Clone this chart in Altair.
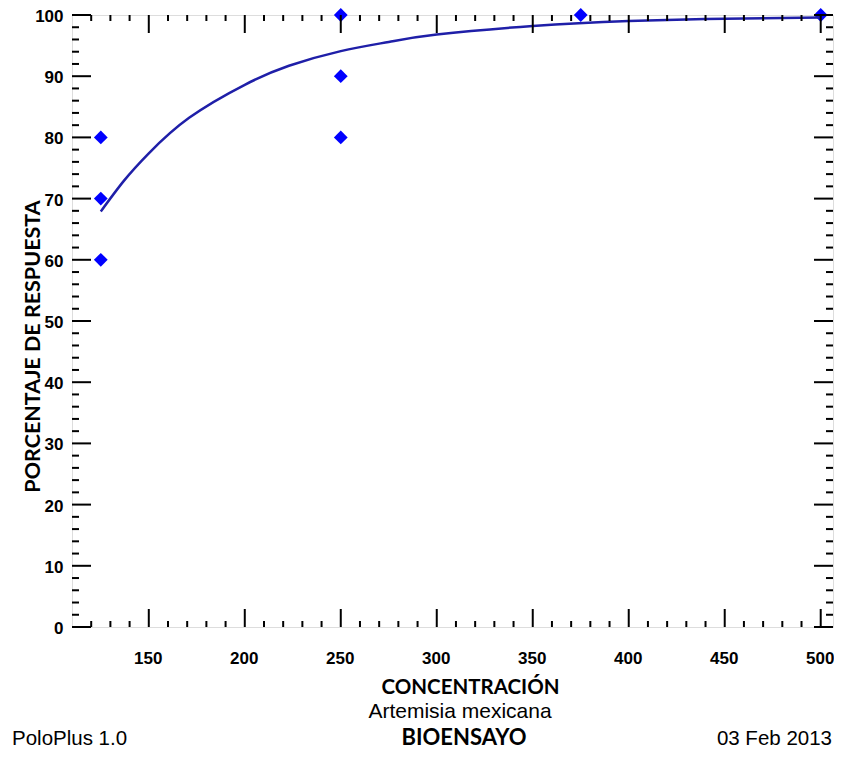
import altair as alt
import pandas as pd

# observed responses
obs_conc = [125, 125, 125, 250, 250, 250, 375, 500]
obs_resp = [60, 70, 80, 80, 90, 100, 100, 100]

# fitted curve
fit_conc = [125, 137, 150, 171, 200, 223, 250, 275, 300, 350, 400, 450, 500]
fit_resp = [67.9, 72.9, 77.4, 83.2, 88.6, 91.7, 94.1, 95.6, 96.8, 98.2, 99.0, 99.4, 99.6]

x_major = [150, 200, 250, 300, 350, 400, 450, 500]
x_minor = [120, 130, 140, 160, 170, 180, 190, 210, 220, 230, 240, 260, 270, 280, 290,
           310, 320, 330, 340, 360, 370, 380, 390, 410, 420, 430, 440, 460, 470, 480, 490]
y_major = [0, 10, 20, 30, 40, 50, 60, 70, 80, 90, 100]
y_minor = [2, 4, 6, 8, 12, 14, 16, 18, 22, 24, 26, 28, 32, 34, 36, 38, 42, 44, 46, 48,
           52, 54, 56, 58, 62, 64, 66, 68, 72, 74, 76, 78, 82, 84, 86, 88, 92, 94, 96, 98]

W, H = 761, 612
XDOM = [110, 506.4]
YDOM = [0, 100]
xs = alt.Scale(domain=XDOM, nice=False, zero=False)
ys = alt.Scale(domain=YDOM, nice=False, zero=False)

obs = pd.DataFrame({"c": obs_conc, "r": obs_resp})
fit = pd.DataFrame({"c": fit_conc, "r": fit_resp})
xmaj = pd.DataFrame({"c": x_major})
xmin = pd.DataFrame({"c": x_minor})
ymaj = pd.DataFrame({"r": y_major})
ymin = pd.DataFrame({"r": y_minor})

LBL_FONT = "Liberation Sans"
TTL_FONT = "Lato"

x_axis = alt.Axis(
    values=x_major, ticks=False, tickSize=0, domain=False, grid=False,
    labelFont=LBL_FONT, labelFontWeight="bold", labelFontSize=17, labelColor="black",
    labelPadding=23, labelFlush=False, labelOffset=-1,
    title="CONCENTRACIÓN", titleFont=TTL_FONT, titleFontWeight="bold", titleFontSize=20.5,
    titleColor="black", titleX=398, titleY=66, titleAlign="center", titleBaseline="alphabetic",
    titleAnchor="start",
)
y_axis = alt.Axis(
    values=y_major, ticks=False, tickSize=0, domain=False, grid=False,
    labelFont=LBL_FONT, labelFontWeight="bold", labelFontSize=17, labelColor="black",
    labelPadding=9, labelFlush=False, labelOffset=1.5,
    title="PORCENTAJE DE RESPUESTA", titleFont=TTL_FONT, titleFontWeight="bold", titleFontSize=21.5,
    titleColor="black", titleX=-39, titleY=331, titleAlign="center", titleBaseline="middle",
    titleAngle=270, titleAnchor="start",
)

X = alt.X("c:Q", scale=xs, axis=x_axis)
Y = alt.Y("r:Q", scale=ys, axis=y_axis)

points = alt.Chart(obs).mark_point(shape="diamond", filled=True, size=190, opacity=1,
                                   color="#0000ff").encode(x=X, y=Y)

curve = alt.Chart(fit).mark_line(color="#1f1fa8", strokeWidth=2.5, interpolate="natural").encode(
    x=X, y=Y)

TK = dict(color="black", strokeWidth=2)

def xticks(df, y0, y1):
    return alt.Chart(df).mark_rule(**TK).encode(x=X, y=alt.value(y0), y2=alt.value(y1))

def yticks(df, x0, x1):
    return alt.Chart(df).mark_rule(**TK).encode(y=Y, x=alt.value(x0), x2=alt.value(x1))

ticks = [
    xticks(xmaj, H, H - 18), xticks(xmin, H, H - 6),
    xticks(xmaj, 0, 18), xticks(xmin, 0, 6),
    yticks(ymaj, 0, 19), yticks(ymin, 0, 7),
    yticks(ymaj, W, W - 19), yticks(ymin, W, W - 7),
]

def label(text, x, y, align, font, size, weight="normal"):
    return alt.Chart(pd.DataFrame({"t": [text]})).mark_text(
        align=align, baseline="alphabetic", font=font, fontSize=size, fontWeight=weight,
        color="black").encode(text="t:N", x=alt.value(x), y=alt.value(y))

texts = [
    label("Artemisia mexicana", 388, 703, "center", LBL_FONT, 21),
    label("BIOENSAYO", 392, 730, "center", TTL_FONT, 22, "bold"),
    label("PoloPlus 1.0", -60, 730, "left", LBL_FONT, 20.5),
    label("03 Feb 2013", 760, 730, "right", LBL_FONT, 20.5),
]

chart = alt.layer(points, curve, *ticks, *texts).properties(
    width=W, height=H,
    autosize=alt.AutoSizeParams(type="none"),
    padding={"left": 64, "top": 7, "right": 1, "bottom": 123},
).configure_view(stroke="black", strokeWidth=2).configure(background="white")

chart.save("out.html", embed_options={"renderer": "svg", "actions": False})
